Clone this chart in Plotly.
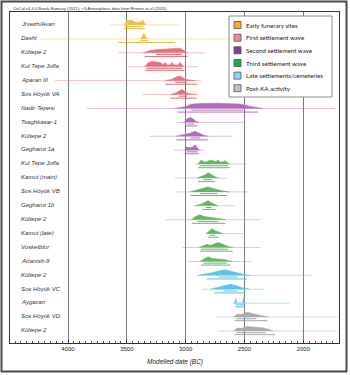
import plotly.graph_objects as go

# ---------------- data ----------------
LABELS = ["Jrvezh/Avan", "Dasht", "Kültepe 2", "Kul Tepe Jolfa", "Aparan III",
          "Sos Höyük VA", "Nadir Tepesi", "Tsaghkasar-1", "Kültepe 2", "Gegharot 1a",
          "Kul Tepe Jolfa", "Kamut (main)", "Sos Höyük VB", "Gegharot 1b", "Kültepe 2",
          "Kamut (late)", "Vosketblur", "Artanish-9", "Kültepe 2", "Sos Höyük VC",
          "Aygavan", "Sos Höyük VD", "Kültepe 2"]
GROUP = [0, 0, 1, 1, 1, 1, 2, 2, 2, 2, 3, 3, 3, 3, 3, 3, 3, 3, 4, 4, 4, 5, 5]

GROUP_NAMES = ["Early funerary sites", "First settlement wave", "Second settlement wave",
               "Third settlement wave", "Late settlements/cemeteries", "Post-KA activity"]

PRIOR_FROM = [3645, 4240, 3575, 3490, 4110, 3365, 3840, 3075, 3305, 3100, 2920, 3090,
              3080, 2940, 3175, 2820, 3030, 2980, 2900, 2860, 2600, 2735, 2725]
PRIOR_TO = [3050, 2300, 2840, 2895, 2870, 2900, 1730, 2510, 2600, 2835, 2480, 2650,
            2470, 2580, 2365, 2510, 2365, 2440, 1925, 2335, 2115, 1710, 1710]

R68_FROM = [3515, 3390, 3250, 3335, 3090, 3060, 2950, 2990, 2960, 2990, 2880, 2850,
            2880, 2830, 2900, 2795, 2870, 2850, 2720, 2680, 2575, 2570, 2570]
R68_TO = [3360, 3320, 3030, 3030, 2990, 2990, 2510, 2930, 2880, 2900, 2640, 2770,
          2730, 2780, 2720, 2750, 2640, 2650, 2560, 2560, 2500, 2400, 2320]
R95_FROM = [3525, 3575, 3350, 3345, 3175, 3130, 3070, 3005, 3080, 3005, 2895, 2895,
            2960, 2860, 2945, 2810, 2880, 2870, 2820, 2760, 2580, 2585, 2585]
R95_TO = [3345, 3090, 2985, 3010, 2900, 2905, 2385, 2900, 2810, 2890, 2625, 2750,
          2650, 2750, 2665, 2720, 2600, 2620, 2480, 2495, 2495, 2305, 2240]

DIST_YEARS = [
    [3525, 3505, 3480, 3455, 3430, 3405, 3380, 3365, 3352, 3340],
    [3385, 3370, 3360, 3350, 3340, 3325],
    [3362, 3303, 3243, 3192, 3158, 3124, 3099, 3073, 3048, 3022, 2997, 2980],
    [3345, 3320, 3286, 3243, 3209, 3192, 3175, 3158, 3133, 3116, 3099, 3065, 3048, 3030, 3013],
    [3175, 3116, 3082, 3056, 3030, 3005, 2963, 2920],
    [3133, 3082, 3048, 3030, 3013, 2980, 2937, 2903],
    [3090, 3005, 2946, 2878, 2750, 2623, 2538, 2453, 2384, 2342],
    [3013, 2988, 2963, 2937, 2912, 2886],
    [3082, 3022, 2963, 2920, 2886, 2844, 2810],
    [3005, 2997, 2963, 2937, 2920, 2903, 2886],
    [2895, 2869, 2844, 2818, 2793, 2767, 2742, 2725, 2708, 2682, 2665, 2640, 2623],
    [2903, 2861, 2827, 2810, 2784, 2750, 2725],
    [2963, 2895, 2844, 2810, 2767, 2708, 2648, 2623],
    [2920, 2861, 2827, 2810, 2784, 2750, 2725],
    [2954, 2912, 2878, 2844, 2793, 2733, 2691, 2657],
    [2827, 2801, 2776, 2750, 2716, 2682],
    [2886, 2844, 2818, 2793, 2759, 2725, 2682, 2640, 2597],
    [2878, 2836, 2810, 2776, 2725, 2665, 2623, 2606],
    [2895, 2836, 2776, 2708, 2665, 2623, 2555, 2495, 2453],
    [2793, 2733, 2674, 2623, 2572, 2521, 2478, 2453],
    [2585, 2578, 2574, 2570, 2563, 2517, 2510, 2506, 2502, 2495],
    [2589, 2563, 2546, 2521, 2495, 2470, 2436, 2385, 2342, 2300],
    [2589, 2563, 2538, 2512, 2478, 2453, 2410, 2350, 2300, 2257],
]
DIST_HEIGHT = [
    [0, 0.6, 0.85, 0.8, 0.5, 0.45, 0.55, 0.85, 0.45, 0],
    [0, 0.35, 0.9, 0.85, 0.3, 0],
    [0, 0.4, 0.55, 0.6, 0.7, 0.65, 0.8, 0.7, 0.8, 0.5, 0.1, 0],
    [0, 0.7, 0.9, 0.85, 0.7, 0.3, 0.75, 0.3, 0.3, 0.75, 0.3, 0.3, 0.75, 0.3, 0],
    [0, 0.25, 0.6, 0.8, 0.6, 0.25, 0.1, 0],
    [0, 0.3, 0.7, 0.85, 0.6, 0.2, 0.05, 0],
    [0, 0.3, 0.75, 0.85, 0.9, 0.85, 0.75, 0.35, 0.1, 0],
    [0, 0.6, 0.85, 0.6, 0.15, 0],
    [0, 0.2, 0.5, 0.85, 0.5, 0.15, 0],
    [0, 0.5, 0.45, 0.55, 0.95, 0.5, 0],
    [0, 0.65, 0.35, 0.4, 0.7, 0.5, 0.4, 0.7, 0.35, 0.35, 0.6, 0.15, 0],
    [0, 0.3, 0.6, 0.9, 0.55, 0.2, 0],
    [0, 0.3, 0.65, 0.85, 0.6, 0.25, 0.05, 0],
    [0, 0.35, 0.7, 0.9, 0.55, 0.2, 0],
    [0, 0.6, 0.85, 0.55, 0.4, 0.3, 0.12, 0],
    [0, 0.5, 0.85, 0.5, 0.2, 0],
    [0, 0.35, 0.55, 0.35, 0.55, 0.85, 0.55, 0.2, 0],
    [0, 0.5, 0.8, 0.5, 0.45, 0.3, 0.05, 0],
    [0, 0.2, 0.45, 0.8, 0.95, 0.75, 0.35, 0.1, 0],
    [0, 0.25, 0.6, 0.85, 0.65, 0.25, 0.05, 0],
    [0, 0.35, 0.8, 0.35, 0, 0, 0.45, 0.95, 0.45, 0],
    [0, 0.5, 0.45, 0.45, 0.75, 0.8, 0.6, 0.4, 0.2, 0],
    [0, 0.5, 0.45, 0.5, 0.75, 0.7, 0.65, 0.55, 0.3, 0],
]

X_TICKS = [4000, 3500, 3000, 2500, 2000]
X_TITLE = "Modelled date (BC)"
HEADER = "OxCal v4.4.4 Bronk Ramsey (2021); r:5 Atmospheric data from Reimer et al (2020)"

# ---------------- styles ----------------
FILL = ["#F2BF4E", "#E9707A", "#B06CB8", "#62B562", "#5CC3EE", "#A9A9A9"]
LINE = ["#E6A823", "#DC4C58", "#9A4FA5", "#4A9F4A", "#3AAFE0", "#8F8F8F"]
FAINT = ["rgba(242,190,80,0.45)", "rgba(232,100,110,0.40)", "rgba(170,100,180,0.40)",
         "rgba(95,180,95,0.40)", "rgba(90,190,235,0.45)", "rgba(160,160,160,0.40)"]
LEG = ["#F5B21F", "#F08A8A", "#7E3F98", "#22A84A", "#8AD4F5", "#C0C0C0"]

W, H = 350, 375
L, R, T, B = 10, 339, 12, 343      # plot frame in pixels
N = len(LABELS)
SCALE = 0.42


def px(xp):
    return (xp - L) / (R - L)


def py(yp):
    return (B - yp) / (B - T)


fig = go.Figure()

for i in range(N):
    g = GROUP[i]
    yv = N - 1 - i
    # faint prior line
    fig.add_trace(go.Scatter(x=[PRIOR_FROM[i], PRIOR_TO[i]], y=[yv, yv], mode="lines",
                             line=dict(color=FAINT[g], width=1), hoverinfo="skip",
                             showlegend=False))
    # posterior distribution
    fig.add_trace(go.Scatter(x=DIST_YEARS[i], y=[yv + h * SCALE for h in DIST_HEIGHT[i]],
                             mode="lines", fill="toself", fillcolor=FILL[g],
                             line=dict(color=FILL[g], width=0.6), hoverinfo="skip",
                             showlegend=False))
    # 68.2% and 95.4% ranges
    fig.add_trace(go.Scatter(x=[R68_FROM[i], R68_TO[i]], y=[yv - 0.12, yv - 0.12],
                             mode="lines", line=dict(color=LINE[g], width=0.8),
                             hoverinfo="skip", showlegend=False))
    fig.add_trace(go.Scatter(x=[R95_FROM[i], R95_TO[i]], y=[yv - 0.26, yv - 0.26],
                             mode="lines", line=dict(color=LINE[g], width=0.8),
                             hoverinfo="skip", showlegend=False))

annotations = []
for i, lab in enumerate(LABELS):
    annotations.append(dict(x=px(19), xref="paper", y=N - 1 - i + 0.05, yref="y",
                            text=f"<i>{lab}</i>", showarrow=False, xanchor="left",
                            yanchor="middle",
                            font=dict(family="Liberation Sans", size=6, color="#333")))

annotations.append(dict(x=0.5, xref="paper", y=py(362), yref="paper",
                        text=f"<i>{X_TITLE}</i>", showarrow=False, xanchor="center",
                        yanchor="middle",
                        font=dict(family="Liberation Sans", size=6.5, color="#222")))
annotations.append(dict(x=px(11), xref="paper", y=py(8.5), yref="paper", text=HEADER,
                        showarrow=False, xanchor="left", yanchor="middle",
                        font=dict(family="Liberation Sans", size=4.2, color="#333")))

shapes = []
# outer frame
shapes.append(dict(type="rect", xref="paper", yref="paper", x0=px(1.5), x1=px(346.5),
                   y0=py(371.5), y1=py(1.5), line=dict(color="#4a4a4a", width=2),
                   layer="above"))
# legend box
shapes.append(dict(type="rect", xref="paper", yref="paper", x0=px(229), x1=px(332),
                   y0=py(97), y1=py(16), line=dict(color="#8a8a8a", width=1),
                   fillcolor="white", layer="above"))
leg_y = [25, 37.7, 50.3, 63, 75.6, 88.2]
for k, name in enumerate(GROUP_NAMES):
    shapes.append(dict(type="rect", xref="paper", yref="paper", x0=px(234), x1=px(241),
                       y0=py(leg_y[k] + 3.5), y1=py(leg_y[k] - 3.5),
                       line=dict(color="#555", width=0.8), fillcolor=LEG[k],
                       layer="above"))
    annotations.append(dict(x=px(244), xref="paper", y=py(leg_y[k]), yref="paper",
                            text=name, showarrow=False, xanchor="left", yanchor="middle",
                            font=dict(family="Lato", size=6.2, color="#222")))

fig.update_layout(
    width=W, height=H,
    margin=dict(l=L, r=W - R, t=T, b=H - B, pad=0),
    paper_bgcolor="white", plot_bgcolor="white",
    showlegend=False,
    annotations=annotations, shapes=shapes,
    xaxis=dict(range=[4493, 1697], tickvals=X_TICKS, ticktext=[str(v) for v in X_TICKS],
               showgrid=True, gridcolor="#7a7a7a", gridwidth=1, zeroline=False,
               showline=True, linecolor="#333", linewidth=1, mirror=True,
               ticks="inside", ticklen=3, tickcolor="#333",
               minor=dict(dtick=50, ticks="inside", ticklen=2, tickcolor="#555",
                          showgrid=False),
               tickfont=dict(family="Liberation Sans", size=6, color="#222")),
    yaxis=dict(range=[-0.863, N - 1 + 0.935], showgrid=False, zeroline=False,
               showticklabels=False, showline=True, linecolor="#333", linewidth=1,
               mirror=True, ticks=""),
)

fig.write_html("out.html", config={"displayModeBar": False},
               post_script="document.body.style.margin='0';document.body.style.padding='0';")
